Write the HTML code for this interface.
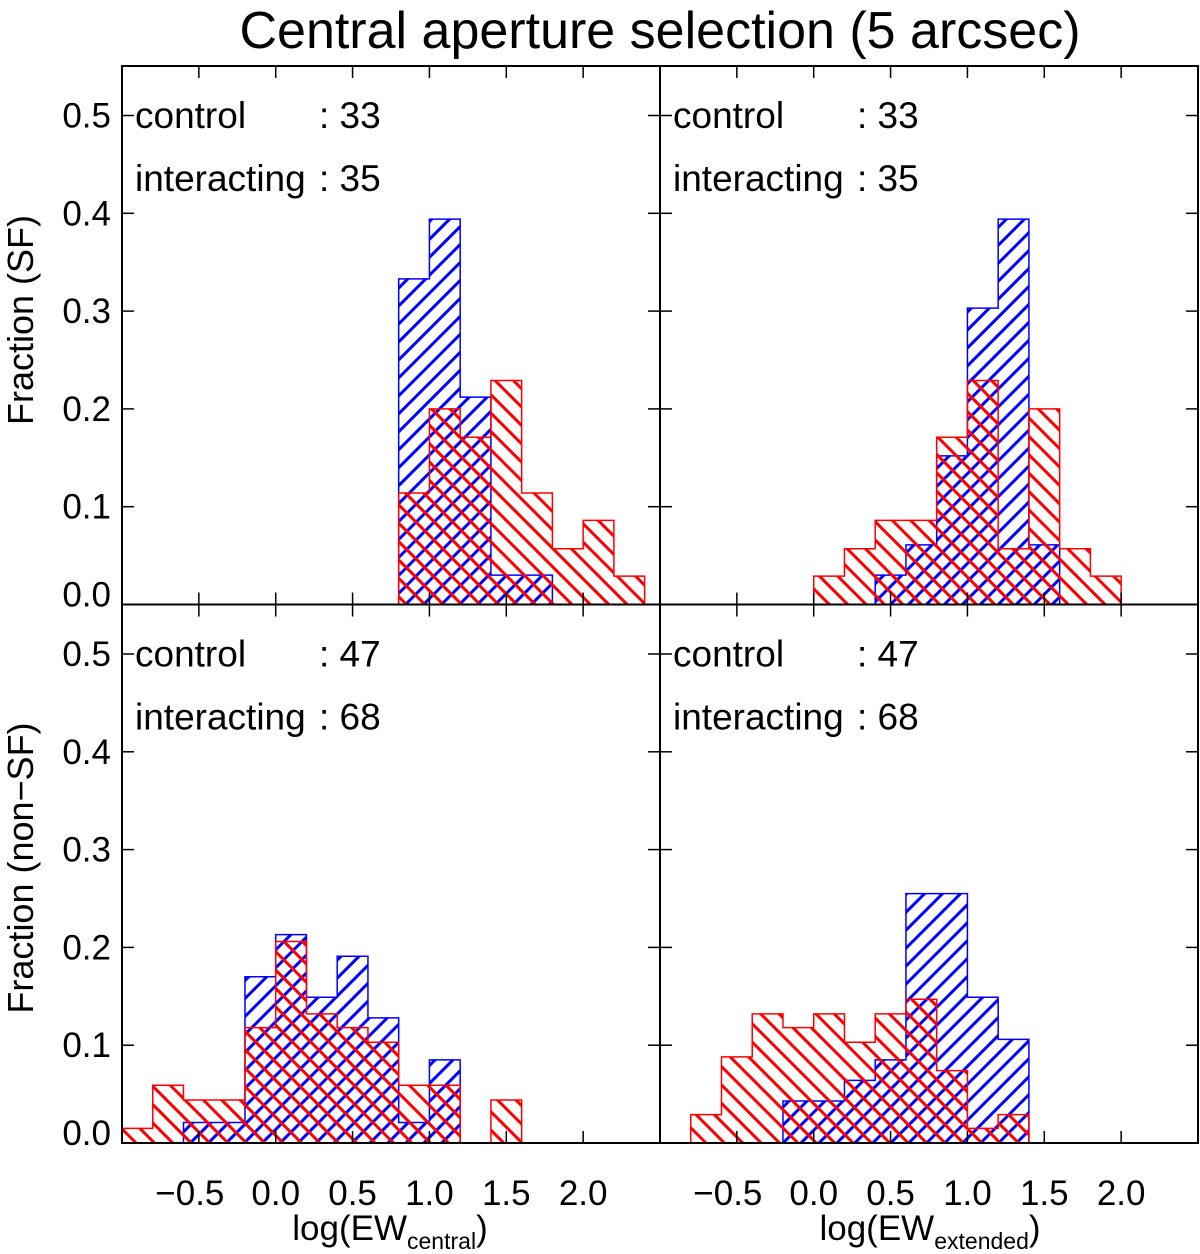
<!DOCTYPE html>
<html><head><meta charset="utf-8"><style>
html,body{margin:0;padding:0;background:#fff;}
svg{display:block;font-family:"Liberation Sans",Arial,sans-serif;}
</style></head><body>
<svg id="chart" width="1200" height="1254" viewBox="0 0 1200 1254">
<defs>
<pattern id="hatchBlue" patternUnits="userSpaceOnUse" width="12.7" height="12.7" patternTransform="rotate(45)">
<line x1="3" y1="0" x2="3" y2="12.7" stroke="#0000ff" stroke-width="3"/>
</pattern>
<pattern id="hatchRed" patternUnits="userSpaceOnUse" width="13" height="13" patternTransform="rotate(-45)">
<line x1="3" y1="0" x2="3" y2="13" stroke="#ff0000" stroke-width="3"/>
</pattern>
</defs>
<text x="660" y="48" font-size="52" text-anchor="middle">Central aperture selection (5 arcsec)</text>
<g id="panels"></g>
</svg>
<script>
// Data (bin width 0.2, start given by *Start)
const tlBlueStart = 0.8;
const tlBlue = [0.333, 0.394, 0.212, 0.030, 0.030];
const tlRedStart = 0.8;
const tlRed = [0.114, 0.200, 0.171, 0.229, 0.114, 0.057, 0.086, 0.029];
const trBlueStart = 0.4;
const trBlue = [0.030, 0.061, 0.152, 0.303, 0.394, 0.061];
const trRedStart = 0.0;
const trRed = [0.029, 0.057, 0.086, 0.086, 0.171, 0.229, 0.057, 0.200, 0.057, 0.029];
const blBlueStart = -0.6;
const blBlue = [0.021, 0.021, 0.170, 0.213, 0.149, 0.191, 0.128, 0.021, 0.085];
const blRedStart = -1.0;
const blRed = [0.015, 0.059, 0.044, 0.044, 0.118, 0.206, 0.132, 0.118, 0.103, 0.059, 0.059, 0.0, 0.044];
const brBlueStart = -0.2;
const brBlue = [0.043, 0.043, 0.064, 0.085, 0.255, 0.255, 0.149, 0.106];
const brRedStart = -0.8;
const brRed = [0.029, 0.088, 0.132, 0.118, 0.132, 0.103, 0.132, 0.147, 0.074, 0.015, 0.029];
const binWidth = 0.2;
const xTicks = [-0.5, 0.0, 0.5, 1.0, 1.5, 2.0];
const xTickLabels = ["\u22120.5", "0.0", "0.5", "1.0", "1.5", "2.0"];
const yTicks = [0.0, 0.1, 0.2, 0.3, 0.4, 0.5];
const yTickLabels = ["0.0", "0.1", "0.2", "0.3", "0.4", "0.5"];
const countsTop = ["33", "35"];
const countsBottom = ["47", "68"];

const NS = "http://www.w3.org/2000/svg";
const root = document.getElementById("panels");
function mk(tag, attrs, parent) {
  const e = document.createElementNS(NS, tag);
  for (const k in attrs) e.setAttribute(k, attrs[k]);
  (parent || root).appendChild(e);
  return e;
}
const X0 = [122, 660], PW = 538, XMIN = -1.0, XMAX = 2.5;
const YBASE = [604.5, 1143], YPX = 978;
function xs(col, v) { return X0[col] + (v - XMIN) / (XMAX - XMIN) * PW; }
function ys(row, v) { return YBASE[row] - v * YPX; }

function histPath(row, col, start, vals) {
  let d = "M" + xs(col, start) + "," + ys(row, 0);
  vals.forEach((v, i) => {
    const a = start + i * binWidth, b = a + binWidth;
    d += " L" + xs(col, a) + "," + ys(row, v) + " L" + xs(col, b) + "," + ys(row, v);
  });
  d += " L" + xs(col, start + vals.length * binWidth) + "," + ys(row, 0) + " Z";
  return d;
}

const panels = [
  {row:0, col:0, bs:tlBlueStart, b:tlBlue, rs:tlRedStart, r:tlRed, c:countsTop, name:"sf-central"},
  {row:0, col:1, bs:trBlueStart, b:trBlue, rs:trRedStart, r:trRed, c:countsTop, name:"sf-extended"},
  {row:1, col:0, bs:blBlueStart, b:blBlue, rs:blRedStart, r:blRed, c:countsBottom, name:"nonsf-central"},
  {row:1, col:1, bs:brBlueStart, b:brBlue, rs:brRedStart, r:brRed, c:countsBottom, name:"nonsf-extended"}
];

panels.forEach(p => {
  const g = mk("g", {});
  
  
  const bp = mk("path", {d: histPath(p.row, p.col, p.bs, p.b), fill: "url(#hatchBlue)", stroke: "#0000ff", "stroke-width": 1.5}, g);
  
  
  const rp = mk("path", {d: histPath(p.row, p.col, p.rs, p.r), fill: "url(#hatchRed)", stroke: "#ff0000", "stroke-width": 1.5}, g);
  
  
  const left = X0[p.col], right = left + PW, bot = YBASE[p.row], top = bot - 538.5;
  const fr = mk("rect", {x:left, y:top, width:PW, height:538.5, fill:"none", stroke:"#000", "stroke-width":2}, g);
  
  
  xTicks.forEach(t => {
    const x = xs(p.col, t);
    const a = mk("line", {x1:x, y1:bot, x2:x, y2:bot-12, stroke:"#000", "stroke-width":1.5}, g);
    
    
    const b = mk("line", {x1:x, y1:top, x2:x, y2:top+12, stroke:"#000", "stroke-width":1.5}, g);
    
    
  });
  yTicks.forEach(t => {
    const y = ys(p.row, t);
    const a = mk("line", {x1:left, y1:y, x2:left+12, y2:y, stroke:"#000", "stroke-width":1.5}, g);
    
    
    const b = mk("line", {x1:right, y1:y, x2:right-12, y2:y, stroke:"#000", "stroke-width":1.5}, g);
    
    
  });
  const tx = left + 13, cx = left + 197, ty1 = top + 62, ty2 = top + 125;
  const l1 = mk("text", {x:tx, y:ty1, "font-size":37}, g); l1.textContent = "control";
  
  
  const v1 = mk("text", {x:cx, y:ty1, "font-size":37}, g); v1.textContent = ": " + p.c[0];
  
  
  const l2 = mk("text", {x:tx, y:ty2, "font-size":37}, g); l2.textContent = "interacting";
  
  
  const v2 = mk("text", {x:cx, y:ty2, "font-size":37}, g); v2.textContent = ": " + p.c[1];
  
  
});

// Y tick labels
[0,1].forEach(row => {
  yTicks.forEach((t, i) => {
    let y = ys(row, t) + 12;
    if (i === 0) y -= 10;
    const e = mk("text", {x:111, y:y, "font-size":35, "text-anchor":"end"});
    e.textContent = yTickLabels[i];
    
    
  });
});
// X tick labels
[0,1].forEach(col => {
  xTicks.forEach((t, i) => {
    const e = mk("text", {x:xs(col, t) - (i === 0 ? 9 : 0), y:1205, "font-size":35, "text-anchor":"middle"});
    e.textContent = xTickLabels[i];
    
    
  });
});
// Axis titles
const yt1 = mk("text", {x:0, y:0, "font-size":36, "text-anchor":"middle", transform:"translate(33,320) rotate(-90)"});
yt1.textContent = "Fraction (SF)";


const yt2 = mk("text", {x:0, y:0, "font-size":36, "text-anchor":"middle", transform:"translate(33,868) rotate(-90)"});
yt2.textContent = "Fraction (non\u2212SF)";


const xt1 = mk("text", {x:390, y:1240, "font-size":35, "text-anchor":"middle"});
xt1.innerHTML = 'log(EW<tspan font-size="23" dy="9">central</tspan><tspan dy="-9">)</tspan>';


const xt2 = mk("text", {x:930, y:1240, "font-size":35, "text-anchor":"middle"});
xt2.innerHTML = 'log(EW<tspan font-size="23" dy="9">extended</tspan><tspan dy="-9">)</tspan>';


</script>
</body></html>
